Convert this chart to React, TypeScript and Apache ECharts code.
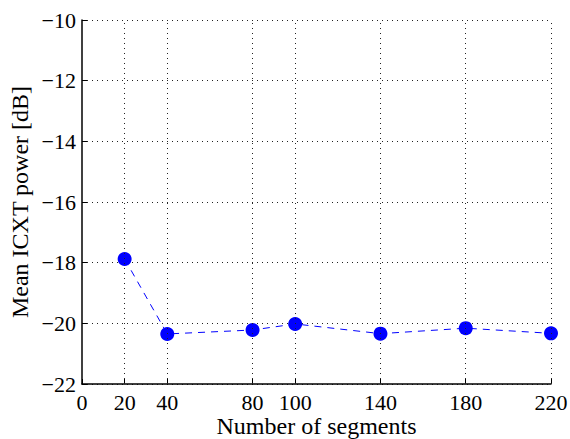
import React, { useEffect, useRef } from "react";
import * as echarts from "echarts";

const segments = [20, 40, 80, 100, 140, 180, 220];
const icxtPower = [-17.88, -20.35, -20.22, -20.02, -20.34, -20.16, -20.33];
const xTickValues = [0, 20, 40, 80, 100, 140, 180, 220];
const yMin = -22;
const yMax = -10;

const FONT = "'Liberation Serif', 'Times New Roman', serif";

export default function App() {
  const ref = useRef<HTMLDivElement>(null);
  useEffect(() => {
    if (!ref.current) return;
    const chart = echarts.init(ref.current, null, { renderer: "svg" });
    const gridStyle = { color: "#222", width: 1, type: [1, 4] as number[] };
    chart.setOption({
      animation: false,
      backgroundColor: "#fff",
      grid: { left: 82, right: 19, top: 20, bottom: 55, containLabel: false, outerBoundsMode: "none" },
      xAxis: {
        type: "value",
        min: 0,
        max: 220,
        interval: 20,
        name: "Number of segments",
        nameLocation: "middle",
        nameGap: 30,
        nameMoveOverlap: false,
        nameTextStyle: { fontFamily: FONT, fontSize: 24, color: "#000" },
        axisLine: { show: true, onZero: false, lineStyle: { color: "#000", width: 1.5 } },
        axisTick: { show: true, inside: true, length: 5, customValues: xTickValues, lineStyle: { color: "#000" } },
        axisLabel: {
          customValues: xTickValues,
          fontFamily: FONT,
          fontSize: 22,
          color: "#000",
          margin: 7,
        },
        splitLine: { show: false },
      },
      yAxis: {
        type: "value",
        min: yMin,
        max: yMax,
        interval: 2,
        name: "Mean ICXT power [dB]",
        nameLocation: "middle",
        nameGap: 50,
        nameMoveOverlap: false,
        nameTextStyle: { fontFamily: FONT, fontSize: 24, color: "#000" },
        axisLine: { show: true, onZero: false, lineStyle: { color: "#000", width: 1.5 } },
        axisTick: { show: true, inside: true, length: 5, lineStyle: { color: "#000" } },
        axisLabel: {
          fontFamily: FONT,
          fontSize: 22,
          color: "#000",
          margin: 6,
          formatter: (v: number) => String(v).replace("-", "\u2212"),
        },
        splitLine: { show: true, lineStyle: gridStyle },
      },
      series: [
        {
          type: "line",
          data: segments.map((s, i) => [s, icxtPower[i]]),
          symbol: "circle",
          symbolSize: 14,
          itemStyle: { color: "#0000ff" },
          lineStyle: { color: "#0000ff", width: 1, type: [7, 6] },
          markLine: {
            silent: true,
            symbol: "none",
            label: { show: false },
            lineStyle: gridStyle,
            data: xTickValues.filter((v) => v > 0).map((v) => ({ xAxis: v })),
          },
          z: 3,
        },
      ],
    });
    return () => chart.dispose();
  }, []);
  return (
    <div
      ref={ref}
      style={{ position: "fixed", left: 0, top: 0, width: 570, height: 439 }}
    />
  );
}
